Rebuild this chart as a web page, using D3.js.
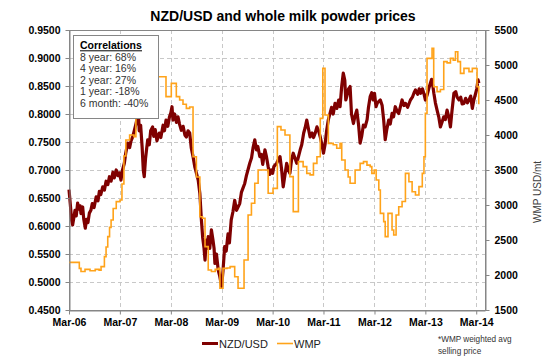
<!DOCTYPE html>
<html>
<head>
<meta charset="utf-8">
<script src="https://cdn.jsdelivr.net/npm/d3@7"></script>
<style>
  html, body { margin: 0; padding: 0; background: #fff; }
  svg { display: block; }
  text { font-family: "Liberation Sans", Arial, sans-serif; }
</style>
</head>
<body>
<svg id="chart" width="550" height="360"></svg>
<script>
// ---------------- DATA ----------------
const titleText = "NZD/USD and whole milk powder prices";
const xTickDates = ["2006-03-01","2007-03-01","2008-03-01","2009-03-01","2010-03-01","2011-03-01","2012-03-01","2013-03-01","2014-03-01"];
const leftTicks = [0.45,0.50,0.55,0.60,0.65,0.70,0.75,0.80,0.85,0.90,0.95];
const rightTicks = [1500,2000,2500,3000,3500,4000,4500,5000,5500];
const correlationLines = ["8 year: 68%","4 year: 16%","2 year: 27%","1 year: -18%","6 month: -40%"];

const nzdDates = [
"2006-03-01","2006-03-10","2006-03-20","2006-03-27","2006-04-05","2006-04-13","2006-04-22","2006-05-02","2006-05-12","2006-05-20",
"2006-05-26","2006-06-07","2006-06-15","2006-06-26","2006-07-05","2006-07-15","2006-07-25","2006-08-05","2006-08-15","2006-08-28",
"2006-09-12","2006-09-25","2006-10-05","2006-10-15","2006-10-29","2006-11-10","2006-11-22","2006-12-05","2006-12-16","2006-12-28",
"2007-01-10","2007-01-20","2007-02-03","2007-02-15","2007-02-25","2007-03-09","2007-03-20","2007-04-02","2007-04-12","2007-04-26",
"2007-05-10","2007-05-20","2007-06-01","2007-06-12","2007-06-24","2007-07-06","2007-07-12","2007-07-18","2007-07-28","2007-08-08",
"2007-08-16","2007-08-23","2007-09-01","2007-09-10","2007-09-17","2007-09-28","2007-10-08","2007-10-22","2007-10-30","2007-11-10",
"2007-11-22","2007-12-09","2007-12-20","2008-01-05","2008-01-15","2008-01-26","2008-02-08","2008-02-20","2008-03-01","2008-03-09",
"2008-03-16","2008-03-28","2008-04-10","2008-04-21","2008-05-02","2008-05-15","2008-05-28","2008-06-10","2008-06-20","2008-07-02",
"2008-07-14","2008-07-25","2008-08-07","2008-08-20","2008-09-05","2008-09-13","2008-09-25","2008-10-06","2008-10-15","2008-10-25",
"2008-11-01","2008-11-10","2008-11-18","2008-11-24","2008-12-05","2008-12-17","2008-12-28","2009-01-05","2009-01-11","2009-01-22",
"2009-02-04","2009-02-15","2009-02-28","2009-03-10","2009-03-22","2009-04-02","2009-04-15","2009-04-25","2009-05-08","2009-05-20",
"2009-06-02","2009-06-15","2009-07-08","2009-07-20","2009-08-01","2009-08-13","2009-08-25","2009-09-05","2009-09-18","2009-10-01",
"2009-10-12","2009-10-24","2009-11-05","2009-11-15","2009-11-29","2009-12-10","2009-12-20","2010-01-05","2010-01-15","2010-01-28",
"2010-02-08","2010-02-20","2010-03-01","2010-03-10","2010-03-30","2010-04-10","2010-04-23","2010-05-05","2010-05-16","2010-05-28",
"2010-06-10","2010-06-22","2010-07-03","2010-07-15","2010-07-27","2010-08-10","2010-08-21","2010-09-05","2010-09-15","2010-09-26",
"2010-10-10","2010-10-20","2010-11-01","2010-11-12","2010-11-25","2010-12-10","2010-12-20","2011-01-01","2011-01-13","2011-01-25",
"2011-02-06","2011-02-18","2011-03-01","2011-03-12","2011-03-24","2011-04-05","2011-04-17","2011-04-28","2011-05-10","2011-05-23",
"2011-06-05","2011-06-18","2011-06-28","2011-07-10","2011-07-21","2011-08-01","2011-08-08","2011-08-15","2011-08-28","2011-09-08",
"2011-09-18","2011-10-02","2011-10-12","2011-10-26","2011-11-08","2011-11-19","2011-11-30","2011-12-12","2011-12-25","2012-01-08",
"2012-01-18","2012-01-30","2012-02-10","2012-02-20","2012-03-01","2012-03-12","2012-03-22","2012-04-12","2012-04-25","2012-05-06",
"2012-05-17","2012-05-28","2012-06-11","2012-06-22","2012-07-05","2012-07-16","2012-07-28","2012-08-10","2012-08-22","2012-09-05",
"2012-09-15","2012-09-28","2012-10-09","2012-10-25","2012-11-14","2012-11-28","2012-12-10","2012-12-20","2013-01-05","2013-01-16",
"2013-01-26","2013-02-08","2013-02-20","2013-03-01","2013-03-15","2013-03-25","2013-04-06","2013-04-15","2013-04-25","2013-05-01",
"2013-05-12","2013-05-24","2013-06-05","2013-06-17","2013-06-28","2013-07-11","2013-07-22","2013-08-04","2013-08-16","2013-08-28",
"2013-09-08","2013-09-22","2013-10-05","2013-10-15","2013-10-28","2013-11-10","2013-11-20","2013-12-03","2013-12-15","2013-12-28",
"2014-01-08","2014-01-20","2014-02-01","2014-02-12","2014-02-25","2014-03-05","2014-03-14","2014-03-20"];
const nzdValues = [
0.665,0.640,0.610,0.602,0.615,0.628,0.618,0.641,0.630,0.636,
0.622,0.634,0.612,0.596,0.612,0.606,0.623,0.628,0.640,0.633,
0.652,0.645,0.662,0.656,0.670,0.664,0.680,0.674,0.688,0.680,
0.696,0.686,0.700,0.690,0.695,0.682,0.700,0.712,0.730,0.748,
0.740,0.752,0.759,0.770,0.782,0.795,0.805,0.770,0.780,0.740,
0.700,0.688,0.720,0.740,0.754,0.745,0.770,0.777,0.760,0.772,
0.752,0.766,0.758,0.780,0.770,0.789,0.778,0.795,0.802,0.813,
0.789,0.800,0.785,0.795,0.782,0.771,0.778,0.762,0.759,0.770,
0.766,0.740,0.724,0.705,0.690,0.682,0.658,0.611,0.580,0.560,
0.539,0.575,0.560,0.581,0.560,0.593,0.575,0.560,0.533,0.550,
0.521,0.510,0.492,0.520,0.563,0.555,0.586,0.570,0.611,0.625,
0.646,0.628,0.640,0.660,0.668,0.676,0.690,0.700,0.712,0.722,
0.740,0.754,0.736,0.742,0.724,0.728,0.710,0.736,0.725,0.706,
0.692,0.700,0.694,0.706,0.712,0.718,0.724,0.700,0.670,0.690,
0.712,0.700,0.694,0.718,0.730,0.720,0.712,0.726,0.736,0.745,
0.766,0.775,0.789,0.775,0.759,0.766,0.758,0.766,0.777,0.770,
0.759,0.745,0.730,0.745,0.771,0.790,0.801,0.812,0.800,0.819,
0.810,0.825,0.813,0.850,0.873,0.860,0.825,0.831,0.845,0.849,
0.800,0.783,0.795,0.807,0.780,0.748,0.760,0.780,0.777,0.790,
0.812,0.831,0.838,0.825,0.837,0.813,0.820,0.825,0.815,0.789,
0.754,0.772,0.789,0.782,0.801,0.795,0.813,0.805,0.801,0.815,
0.825,0.815,0.819,0.812,0.825,0.830,0.838,0.843,0.835,0.845,
0.837,0.845,0.835,0.825,0.835,0.845,0.855,0.862,0.848,0.837,
0.820,0.807,0.795,0.777,0.785,0.795,0.790,0.807,0.795,0.777,
0.805,0.837,0.840,0.830,0.825,0.830,0.818,0.819,0.828,0.820,
0.825,0.832,0.810,0.825,0.837,0.845,0.861,0.855];

const wmpDates = [
"2006-03-01","2006-05-14","2006-05-26","2006-06-24","2006-07-30","2006-09-05","2006-10-03","2006-10-17","2006-11-10","2006-11-22",
"2006-12-04","2006-12-17","2006-12-28","2007-01-12","2007-02-03","2007-03-02","2007-03-16","2007-03-30","2007-04-13","2007-05-10",
"2007-06-10","2007-06-24","2007-07-18","2008-01-26","2008-03-04","2008-04-09","2008-05-03","2008-05-27","2008-06-20","2008-07-14",
"2008-08-07","2008-08-31","2008-09-25","2008-10-14","2008-11-01","2008-11-24","2008-12-17","2009-01-13","2009-02-04","2009-02-16",
"2009-03-10","2009-04-08","2009-04-30","2009-06-02","2009-06-26","2009-08-08","2009-09-06","2009-09-30","2009-10-24","2009-11-17",
"2010-01-28","2010-03-04","2010-04-04","2010-04-30","2010-05-29","2010-07-03","2010-07-27","2010-09-02","2010-10-06","2010-11-01",
"2010-11-25","2010-12-19","2011-01-13","2011-02-06","2011-02-24","2011-03-12","2011-04-05","2011-05-10","2011-06-04","2011-06-28",
"2011-07-10","2011-08-03","2011-08-25","2011-09-08","2011-10-14","2011-11-19","2011-12-13","2012-01-07","2012-01-30","2012-02-11",
"2012-02-28","2012-03-13","2012-04-01","2012-04-12","2012-05-06","2012-05-17","2012-06-06","2012-07-05","2012-07-17","2012-08-03",
"2012-08-22","2012-09-15","2012-10-09","2012-11-03","2012-11-26","2012-12-20","2013-01-14","2013-02-07","2013-02-19","2013-03-01",
"2013-03-13","2013-04-18","2013-04-30","2013-05-24","2013-06-17","2013-07-11","2013-08-04","2013-08-28","2013-09-17","2013-10-03",
"2013-10-20","2013-11-08","2013-12-03","2014-01-08","2014-02-01","2014-02-25","2014-03-07","2014-03-19","2014-03-25"];
const wmpValues = [
2180,2095,2050,2080,2060,2080,2070,2120,2262,2400,
2548,2680,2786,2950,3048,3071,3300,3700,3929,4000,
3976,4357,4833,4548,4738,4548,4500,4440,4380,4400,
3690,3400,2833,2810,2405,2071,2050,2080,2095,1810,
2095,2100,2119,1976,1810,2214,2857,3024,3310,3500,
3167,3238,4119,4071,4000,3405,2905,3619,3548,3452,
3430,3595,3690,4238,4952,4286,3881,3860,3810,3881,
3643,3500,3400,3310,3500,3595,3620,3570,3548,3452,
3500,3357,3214,2881,2762,2548,2881,2643,2571,2857,
2976,3050,3452,3333,3190,3143,3262,3452,3690,4310,
5095,5238,4690,4619,4650,5048,5030,5095,5070,5190,
5048,4881,4952,4905,4952,4950,4690,4452,4452];

const seriesNames = ["NZD/USD","WMP"];
const footnoteLines = ["*WMP weighted avg","selling price"];

// ---------------- CHART ----------------
const parse = d3.timeParse("%Y-%m-%d");
const nzd = nzdDates.map((d,i) => ({date: parse(d), value: nzdValues[i]}));
const wmp = wmpDates.map((d,i) => ({date: parse(d), value: wmpValues[i]}));

const svg = d3.select("#chart");
const L = 69, R = 485, T = 30, B = 310;

const x = d3.scaleTime().domain([parse("2006-03-01"), parse("2014-05-03")]).range([L, R]);
const yL = d3.scaleLinear().domain([0.45, 0.95]).range([B, T]);
const yR = d3.scaleLinear().domain([1500, 5500]).range([B, T]);

const gridColor = "#c8c8c8";
const axisColor = "#868686";

// horizontal grid
svg.append("g").selectAll("line").data(leftTicks.slice(1, -1)).join("line")
  .attr("x1", L).attr("x2", R)
  .attr("y1", d => Math.round(yL(d)) + 0.5).attr("y2", d => Math.round(yL(d)) + 0.5)
  .attr("stroke", gridColor).attr("stroke-dasharray", "4,3");
// vertical grid
svg.append("g").selectAll("line").data(xTickDates.slice(1)).join("line")
  .attr("x1", d => Math.round(x(parse(d))) + 0.5).attr("x2", d => Math.round(x(parse(d))) + 0.5)
  .attr("y1", T).attr("y2", B)
  .attr("stroke", gridColor).attr("stroke-dasharray", "4,3");

// plot border
svg.append("rect").attr("x", L + 0.5).attr("y", T + 0.5).attr("width", R - L).attr("height", B - T)
  .attr("fill", "none").attr("stroke", axisColor);

// series
const lineNzd = d3.line().x(d => x(d.date)).y(d => yL(d.value)).curve(d3.curveLinear);
const lineWmp = d3.line().x(d => x(d.date)).y(d => yR(d.value)).curve(d3.curveStepAfter);

svg.append("path").datum(nzd).attr("d", lineNzd)
  .attr("fill", "none").attr("stroke", "#7f0000").attr("stroke-width", 3.2).attr("stroke-linejoin", "round");
svg.append("path").datum(wmp).attr("d", lineWmp)
  .attr("fill", "none").attr("stroke", "#ffa31a").attr("stroke-width", 1.6);

// axes
function styleAxis(g) {
  g.select(".domain").attr("stroke", axisColor);
  g.selectAll(".tick line").attr("stroke", axisColor);
  g.selectAll(".tick text").attr("font-family", "Liberation Sans, Arial, sans-serif")
    .attr("font-size", "10.5px").attr("font-weight", "bold").attr("fill", "#000");
}
svg.append("g").attr("transform", `translate(${L + 0.5},0)`)
  .call(d3.axisLeft(yL).tickValues(leftTicks).tickFormat(d3.format(".4f")).tickSize(4).tickPadding(5).tickSizeOuter(0))
  .call(styleAxis);
svg.append("g").attr("transform", `translate(${R + 0.5},0)`)
  .call(d3.axisRight(yR).tickValues(rightTicks).tickFormat(d3.format("d")).tickSize(4).tickPadding(5).tickSizeOuter(0))
  .call(styleAxis);
svg.append("g").attr("transform", `translate(0,${B + 0.5})`)
  .call(d3.axisBottom(x).tickValues(xTickDates.map(parse)).tickFormat(d3.timeFormat("%b-%y")).tickSize(4).tickPadding(4).tickSizeOuter(0))
  .call(styleAxis);

// title
svg.append("text").attr("x", 283).attr("y", 21).attr("text-anchor", "middle")
  .attr("font-size", "14px").attr("font-weight", "bold").attr("fill", "#000").text(titleText);

// right axis title
svg.append("text").attr("transform", "translate(541,192) rotate(-90)").attr("text-anchor", "middle")
  .attr("font-size", "10px").attr("fill", "#404040").text("WMP USD/mt");

// correlation box
const box = svg.append("g");
box.append("rect").attr("x", 73.5).attr("y", 35.5).attr("width", 85).attr("height", 83)
  .attr("fill", "#fff").attr("stroke", axisColor);
box.append("text").attr("x", 80).attr("y", 49).attr("font-size", "10.5px").attr("font-weight", "bold")
  .attr("fill", "#000").text("Correlations");
box.append("line").attr("x1", 80).attr("x2", 142).attr("y1", 50.8).attr("y2", 50.8)
  .attr("stroke", "#000").attr("stroke-width", 1);
box.selectAll("text.c").data(correlationLines).join("text").attr("class", "c")
  .attr("x", 80).attr("y", (d, i) => 60.5 + i * 11.6)
  .attr("font-size", "10.5px").attr("fill", "#333").text(d => d);

// legend
const legend = svg.append("g");
const legendItems = [
  {name: seriesNames[0], color: "#7f0000", width: 3, x0: 202},
  {name: seriesNames[1], color: "#ffa31a", width: 1.6, x0: 277}
];
legendItems.forEach(it => {
  legend.append("line").attr("x1", it.x0).attr("x2", it.x0 + 16).attr("y1", 343.5).attr("y2", 343.5)
    .attr("stroke", it.color).attr("stroke-width", it.width);
  legend.append("text").attr("x", it.x0 + 17).attr("y", 347.5).attr("font-size", "11px")
    .attr("fill", "#222").text(it.name);
});

// footnote
svg.selectAll("text.fn").data(footnoteLines).join("text").attr("class", "fn")
  .attr("x", 438).attr("y", (d, i) => 342 + i * 11.5)
  .attr("font-family", "Open Sans, sans-serif").attr("font-size", "8.2px").attr("fill", "#333").text(d => d);
</script>
</body>
</html>
